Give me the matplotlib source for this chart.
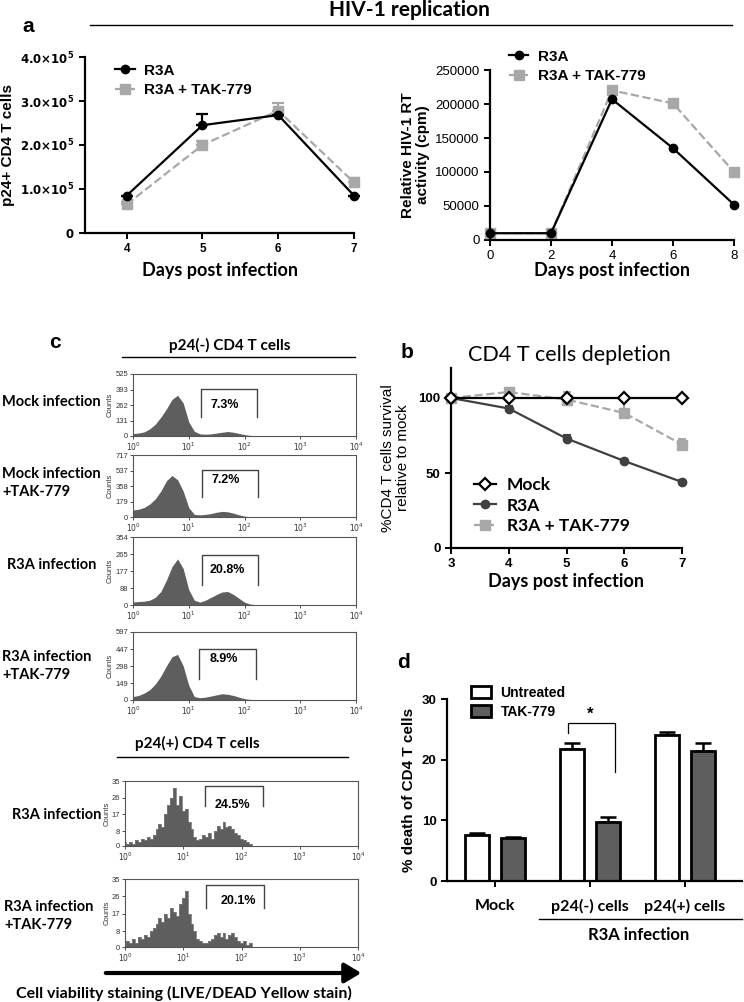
import numpy as np
import matplotlib
matplotlib.use('Agg')
import matplotlib.pyplot as plt
from matplotlib.lines import Line2D
from matplotlib.patches import FancyArrowPatch
from matplotlib.ticker import FuncFormatter

W, H = 744, 1002

# ---- panel a (left): p24+ CD4 T cells ----
a1_days = [4, 5, 6, 7]
a1_r3a = [85000, 245000, 268000, 85000]
a1_r3a_err = [0, 25000, 0, 0]
a1_tak = [65000, 200000, 278000, 115000]
a1_tak_err = [5000, 10000, 18000, 10000]

# ---- panel a (right): RT activity ----
a2_days = [0, 2, 4, 6, 8]
a2_r3a = [10000, 10000, 207000, 135000, 52000]
a2_tak = [10000, 10000, 220000, 201000, 100000]

# ---- panel b: depletion ----
b_days = [3, 4, 5, 6, 7]
b_mock = [100, 100, 100, 100, 100]
b_r3a = [100, 93, 73, 58, 44]
b_r3a_err = [0, 1.5, 2.5, 1.5, 1.5]
b_tak = [100, 104, 99, 90, 69]
b_tak_err = [0, 1, 5, 10, 4]

# ---- panel d: % death ----
d_groups = ['Mock', 'p24(-) cells', 'p24(+) cells']
d_untreated = [7.6, 21.8, 24.0]
d_untreated_err = [0.3, 1.0, 0.5]
d_tak = [7.1, 9.7, 21.5]
d_tak_err = [0.2, 0.8, 1.3]

# ---- panel c: flow histograms (counts read at log10 channel positions) ----
x_coarse = np.round(np.arange(0, 2.31, 0.1), 2)
x_fine = np.round(np.arange(0, 2.301, 0.05), 3)
h_mock = [20, 25, 35, 60, 100, 160, 230, 310, 345, 280, 120, 40, 18, 15, 18, 25, 32, 38, 32, 22, 12, 5, 2, 0]
h_mock_tak = [80, 90, 110, 150, 210, 300, 420, 480, 430, 300, 110, 30, 25, 30, 40, 55, 65, 60, 45, 25, 10, 3, 0, 0]
h_r3a = [15, 18, 20, 25, 40, 70, 130, 200, 240, 190, 80, 25, 15, 25, 40, 55, 68, 70, 55, 35, 15, 5, 2, 0]
h_r3a_tak = [30, 40, 60, 90, 140, 210, 300, 380, 400, 300, 130, 30, 20, 25, 35, 45, 55, 50, 40, 25, 12, 5, 2, 0]
h_pos_r3a = [2, 1, 2, 1, 3, 2, 4, 3, 5, 4, 6, 9, 12, 10, 17, 22, 26, 31, 22, 27, 19, 20, 13, 9,
             5, 3, 4, 6, 5, 7, 4, 8, 11, 9, 13, 10, 11, 9, 7, 6, 4, 3, 2, 1, 0, 0, 0]
h_pos_r3a_tak = [1, 3, 2, 4, 2, 5, 4, 6, 5, 8, 10, 12, 15, 13, 17, 15, 20, 18, 16, 22, 25, 29, 17, 12,
                 8, 4, 3, 2, 2, 3, 4, 6, 7, 5, 7, 4, 6, 7, 5, 3, 2, 3, 1, 2, 0, 0, 0]
yt_mock = [0, 131, 262, 393, 525]
yt_mock_tak = [0, 179, 358, 537, 717]
yt_r3a = [0, 88, 177, 265, 354]
yt_r3a_tak = [0, 149, 298, 447, 597]
yt_pos = [0, 8, 17, 26, 35]

plt.rcParams['font.family'] = ['Liberation Sans', 'DejaVu Sans']
fig = plt.figure(figsize=(W / 100, H / 100), dpi=100)
fig.patch.set_facecolor('white')

CAL = ['Lato', 'DejaVu Sans']
GRAY = '#a8a8a8'
DARK = '#5e5e5e'


def add_ax(l, t, r, b):
    return fig.add_axes([l / W, 1 - b / H, (r - l) / W, (b - t) / H])


def ftext(x, y, s, **kw):
    fig.text(x / W, 1 - y / H, s, **kw)


def fline(x1, x2, y, lw=1.0):
    fig.add_artist(Line2D([x1 / W, x2 / W], [1 - y / H, 1 - y / H], color='black', lw=lw))


def style_xy(ax):
    for s in ['top', 'right']:
        ax.spines[s].set_visible(False)
    for s in ['left', 'bottom']:
        ax.spines[s].set_linewidth(1.6)
    ax.tick_params(width=1.4, length=4, direction='out')


# legend proxies
h_r3a_line = Line2D([], [], color='black', lw=1.6, marker='o', ms=6)
h_tak_line = Line2D([], [], color=GRAY, lw=1.6, ls='--', marker='s', ms=7)

# title block
ftext(409, 10, 'HIV-1 replication', ha='center', va='center', fontsize=15,
      fontweight='bold', family=CAL)
fline(90, 732, 25)
ftext(28, 27, 'a', ha='center', va='center', fontsize=15, fontweight='bold')

# ---------- a left ----------
ax = add_ax(85, 57, 354, 233)
style_xy(ax)
ax.errorbar(a1_days, a1_r3a, yerr=[np.zeros(4), a1_r3a_err], color='black', lw=1.6,
            marker='o', ms=6, capsize=4, capthick=1.6, clip_on=False, zorder=3)
ax.errorbar(a1_days, a1_tak, yerr=[np.zeros(4), a1_tak_err], color=GRAY, lw=1.6, ls='--',
            marker='s', ms=7, capsize=4, capthick=1.6, clip_on=False, zorder=2)
ax.set_xlim(3.45, 7)
ax.set_ylim(0, 400000)
ax.set_xticks(a1_days)
ax.set_yticks([0, 100000, 200000, 300000, 400000])


def sci_fmt(v, pos):
    if v == 0:
        return r'$\mathbf{0}$'
    return r'$\mathbf{%.1f{\times}10^5}$' % (v / 1e5)


ax.yaxis.set_major_formatter(FuncFormatter(sci_fmt))
for lab in ax.get_xticklabels():
    lab.set_fontweight('bold')
ax.tick_params(labelsize=8.5)
ax.set_ylabel('p24+ CD4 T cells', fontsize=11, fontweight='bold', labelpad=4)
ax.set_xlabel('Days post infection', fontsize=13, fontweight='bold', family=CAL, labelpad=5)
ax.legend([h_r3a_line, h_tak_line], ['R3A', 'R3A + TAK-779'], loc='upper left',
          bbox_to_anchor=(0.06, 1.04), frameon=False, handlelength=1.3,
          prop={'weight': 'bold', 'size': 11}, labelspacing=0.35, handletextpad=0.6)

# ---------- a right ----------
ax = add_ax(490, 70, 734, 240)
style_xy(ax)
ax.plot(a2_days, a2_r3a, color='black', lw=1.6, marker='o', ms=6, clip_on=False, zorder=3)
ax.plot(a2_days, a2_tak, color=GRAY, lw=1.6, ls='--', marker='s', ms=7, clip_on=False, zorder=2)
ax.set_xlim(0, 8)
ax.set_ylim(0, 250000)
ax.set_xticks(a2_days)
ax.set_yticks([0, 50000, 100000, 150000, 200000, 250000])
ax.tick_params(labelsize=9.5)
ax.set_ylabel('Relative HIV-1 RT\nactivity (cpm)', fontsize=11, fontweight='bold', labelpad=4,
              linespacing=1.1)
ax.set_xlabel('Days post infection', fontsize=13, fontweight='bold', family=CAL, labelpad=0)
ax.legend([h_r3a_line, h_tak_line], ['R3A', 'R3A + TAK-779'], loc='upper left',
          bbox_to_anchor=(0.02, 1.2), frameon=False, handlelength=1.3,
          prop={'weight': 'bold', 'size': 11}, labelspacing=0.35, handletextpad=0.6)

# ---------- b ----------
ftext(407, 353, 'b', ha='center', va='center', fontsize=15, fontweight='bold')
ftext(569, 355, 'CD4 T cells depletion', ha='center', va='center', fontsize=15.5, family=CAL)
ax = add_ax(451, 368, 682, 548)
style_xy(ax)
ax.plot(b_days, b_mock, color='black', lw=1.6, marker='D', ms=6, mfc='white', mew=1.6,
        clip_on=False, zorder=4)
ax.errorbar(b_days, b_r3a, yerr=[np.zeros(5), b_r3a_err], color='#404040', lw=1.6, marker='o', ms=6,
            capsize=3, capthick=1.5, clip_on=False, zorder=3)
ax.errorbar(b_days, b_tak, yerr=[np.zeros(5), b_tak_err], color=GRAY, lw=1.6, ls='--', marker='s',
            ms=7, capsize=3, capthick=1.5, clip_on=False, zorder=2)
ax.set_xlim(3, 7)
ax.set_ylim(0, 120)
ax.set_yticks([0, 50, 100])
ax.set_xticks(b_days)
for lab in ax.get_xticklabels() + ax.get_yticklabels():
    lab.set_fontweight('bold')
ax.tick_params(labelsize=9.5)
ax.set_ylabel('%CD4 T cells survival\nrelative to mock', fontsize=11, labelpad=6, linespacing=1.1)
ax.set_xlabel('Days post infection', fontsize=13, fontweight='bold', family=CAL, labelpad=2)
hb = [Line2D([], [], color='black', lw=1.6, marker='D', ms=6, mfc='white', mew=1.6),
      Line2D([], [], color='#404040', lw=1.6, marker='o', ms=6),
      Line2D([], [], color=GRAY, lw=1.6, ls='--', marker='s', ms=7)]
ax.legend(hb, ['Mock', 'R3A', 'R3A + TAK-779'], loc='upper left', bbox_to_anchor=(0.03, 0.48),
          frameon=False, handlelength=1.3,
          prop={'family': CAL, 'weight': 'bold', 'size': 12.5}, labelspacing=0.25, handletextpad=0.6)

# ---------- d ----------
ftext(404, 663, 'd', ha='center', va='center', fontsize=15, fontweight='bold')
ax = add_ax(447, 699, 742, 881)
style_xy(ax)
gx = np.arange(len(d_groups))
ax.bar(gx - 0.19, d_untreated, 0.26, color='white', edgecolor='black', lw=2, label='Untreated', zorder=2)
ax.bar(gx + 0.19, d_tak, 0.26, color=DARK, edgecolor='black', lw=2, label='TAK-779', zorder=2)
ax.errorbar(gx - 0.19, d_untreated, yerr=[np.zeros(3), d_untreated_err], fmt='none', ecolor='black',
            elinewidth=1.8, capsize=6, capthick=1.8, zorder=1)
ax.errorbar(gx + 0.19, d_tak, yerr=[np.zeros(3), d_tak_err], fmt='none', ecolor='black',
            elinewidth=1.8, capsize=6, capthick=1.8, zorder=1)
ax.set_xlim(-0.505, 2.6)
ax.set_ylim(0, 30)
ax.set_yticks([0, 10, 20, 30])
ax.set_xticks(gx)
ax.set_xticklabels(d_groups, family=CAL, fontweight='bold', fontsize=11.5)
for lab in ax.get_yticklabels():
    lab.set_fontweight('bold')
ax.tick_params(axis='y', labelsize=9.5)
ax.tick_params(axis='x', pad=9)
ax.set_ylabel('% death of CD4 T cells', fontsize=11, fontweight='bold', labelpad=4)
ax.plot([0.77, 0.77, 1.26, 1.26], [24.4, 26.0, 26.0, 18.0], color='black', lw=0.9, clip_on=False)
ax.text(1.0, 26.3, '*', ha='center', va='bottom', fontsize=12, fontweight='bold')
ax.legend(loc='upper left', bbox_to_anchor=(0.04, 1.14), frameon=False, handlelength=1.4,
          handleheight=1.0, prop={'weight': 'bold', 'size': 10}, labelspacing=0.35, handletextpad=0.7)
fline(539, 742, 919)
ftext(639, 935, 'R3A infection', ha='center', va='center', fontsize=12, fontweight='bold', family=CAL)

# ---------- c ----------
ftext(55, 342, 'c', ha='center', va='center', fontsize=15, fontweight='bold')
ftext(230, 345, 'p24(-) CD4 T cells', ha='center', va='center', fontsize=11, fontweight='bold', family=CAL)
fline(122, 355, 357)
ftext(197, 743, 'p24(+) CD4 T cells', ha='center', va='center', fontsize=11, fontweight='bold', family=CAL)
fline(117, 348, 757)

hists = [
    (133, 374, 356, 436, x_coarse, h_mock, yt_mock, '7.3%', (1.22, 2.22), (0.76, 0.31), (1.64, 0.5), False),
    (133, 455, 356, 517, x_coarse, h_mock_tak, yt_mock_tak, '7.2%', (1.24, 2.24), (0.76, 0.32), (1.66, 0.6), False),
    (133, 537, 356, 605, x_coarse, h_r3a, yt_r3a, '20.8%', (1.24, 2.24), (0.74, 0.29), (1.7, 0.52), False),
    (133, 632, 356, 700, x_coarse, h_r3a_tak, yt_r3a_tak, '8.9%', (1.18, 2.2), (0.75, 0.31), (1.62, 0.6), False),
    (125, 781, 358, 846, x_fine, h_pos_r3a, yt_pos, '24.5%', (1.37, 2.37), (0.92, 0.62), (1.84, 0.63), True),
    (125, 879, 358, 947, x_fine, h_pos_r3a_tak, yt_pos, '20.1%', (1.39, 2.39), (0.91, 0.57), (1.95, 0.68), True),
]
for l, t, r, b, hx, hy, yt, pct, gate, gy, tpos, steps in hists:
    ax = add_ax(l, t, r, b)
    if steps:
        ax.fill_between(hx, hy, step='mid', color=DARK, lw=0)
        ax.step(hx, hy, where='mid', color='#7a7a7a', lw=0.6)
    else:
        ax.fill_between(hx, hy, color=DARK, lw=0)
    ax.set_xlim(0, 4)
    ax.set_ylim(0, yt[-1])
    ax.set_xticks([0, 1, 2, 3, 4])
    ax.set_xticklabels([r'$10^{%d}$' % i for i in range(5)])
    ax.set_yticks(yt)
    ax.tick_params(labelsize=5.5, length=2.5, width=0.6, pad=1, colors='#333333')
    for s in ax.spines.values():
        s.set_linewidth(0.8)
        s.set_color('#555555')
    ax.set_ylabel('Counts', fontsize=5.5, labelpad=1, color='#333333')
    tr = ax.get_xaxis_transform()
    ax.plot([gate[0], gate[0], gate[1], gate[1]], [gy[1], gy[0], gy[0], gy[1]], color='#444444',
            lw=1.0, transform=tr)
    ax.text(tpos[0], tpos[1], pct, transform=tr, ha='center', va='center', fontsize=9, fontweight='bold')

row_labels = [
    (2, 402, 'Mock infection'),
    (2, 483, 'Mock infection\n+TAK-779'),
    (7, 565, 'R3A infection'),
    (2, 666, 'R3A infection\n+TAK-779'),
    (12, 815, 'R3A infection'),
    (4, 916, 'R3A infection\n+TAK-779'),
]
for x, y, s in row_labels:
    ftext(x, y, s, ha='left', va='center', fontsize=10.5, fontweight='bold', family=CAL, linespacing=1.4)

fig.add_artist(FancyArrowPatch((103 / W, 1 - 973 / H), (364 / W, 1 - 973 / H), transform=fig.transFigure,
                               arrowstyle='-|>,head_length=5,head_width=3', lw=3, color='black',
                               mutation_scale=2))
ftext(184, 993, 'Cell viability staining (LIVE/DEAD Yellow stain)', ha='center', va='center',
      fontsize=11.5, family=CAL, fontweight='bold')

fig.savefig('out.png', dpi=100, facecolor='white')
